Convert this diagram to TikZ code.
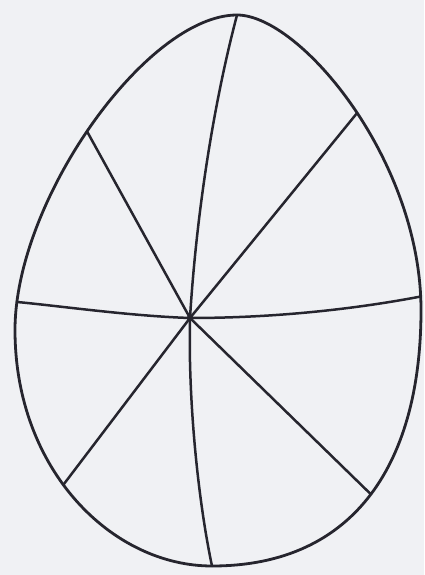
\documentclass[tikz,border=0pt]{standalone}
\usepackage{tikz}
\usetikzlibrary{calc}
\definecolor{egg-ink}{HTML}{26252E}
\definecolor{egg-paper}{HTML}{F0F1F4}

\begin{document}
\begin{tikzpicture}[
    x=1pt, y=-1pt, % picture measured in pixels of the sketch, y downwards
    line join=round,
    line cap=round
  ]

  % Styles for the outline and the spokes
  \tikzset{
    shell/.style={draw=egg-ink, line width=2.8pt},
    spoke/.style={draw=egg-ink, line width=2.5pt}
  }

  % Paper
  \fill[egg-paper] (0,0) rectangle (424,575);
  \useasboundingbox (0,0) rectangle (424,575);

  % Extreme points of the shell and the hub
  \coordinate (top)    at (237,15);
  \coordinate (right)  at (421,310);
  \coordinate (bottom) at (212,566);
  \coordinate (left)   at (15,330);
  \coordinate (c)      at (190,318);

  % Egg shell, spoke ends picked up on the way round
  \draw[shell] (top)
    .. controls (300,15) and (421,160) .. (right)
       coordinate[pos=0.52] (ne) coordinate[pos=0.97] (e)
    .. controls (421,460) and (357,566) .. (bottom)
       coordinate[pos=0.5] (se)
    .. controls (112,566) and (15,470) .. (left)
       coordinate[pos=0.56] (sw)
    .. controls (15,200) and (147,15) .. (top)
       coordinate[pos=0.07] (w) coordinate[pos=0.48] (nw)
    -- cycle;

  % Spokes
  \draw[spoke] (c) .. controls (196,220) and (212,110) .. (top);
  \draw[spoke] (c) -- (ne);
  \draw[spoke] (c) .. controls (270,318) and (350,310) .. (e);
  \draw[spoke] (c) -- (se);
  \draw[spoke] (c) .. controls (188,400) and (198,500) .. (bottom);
  \draw[spoke] (c) -- (sw);
  \draw[spoke] (c) .. controls (130,316) and (60,306) .. (w);
  \draw[spoke] (c) -- (nw);

  % Hub
  \fill[egg-ink] (c) circle (3.2pt);

\end{tikzpicture}
\end{document}
